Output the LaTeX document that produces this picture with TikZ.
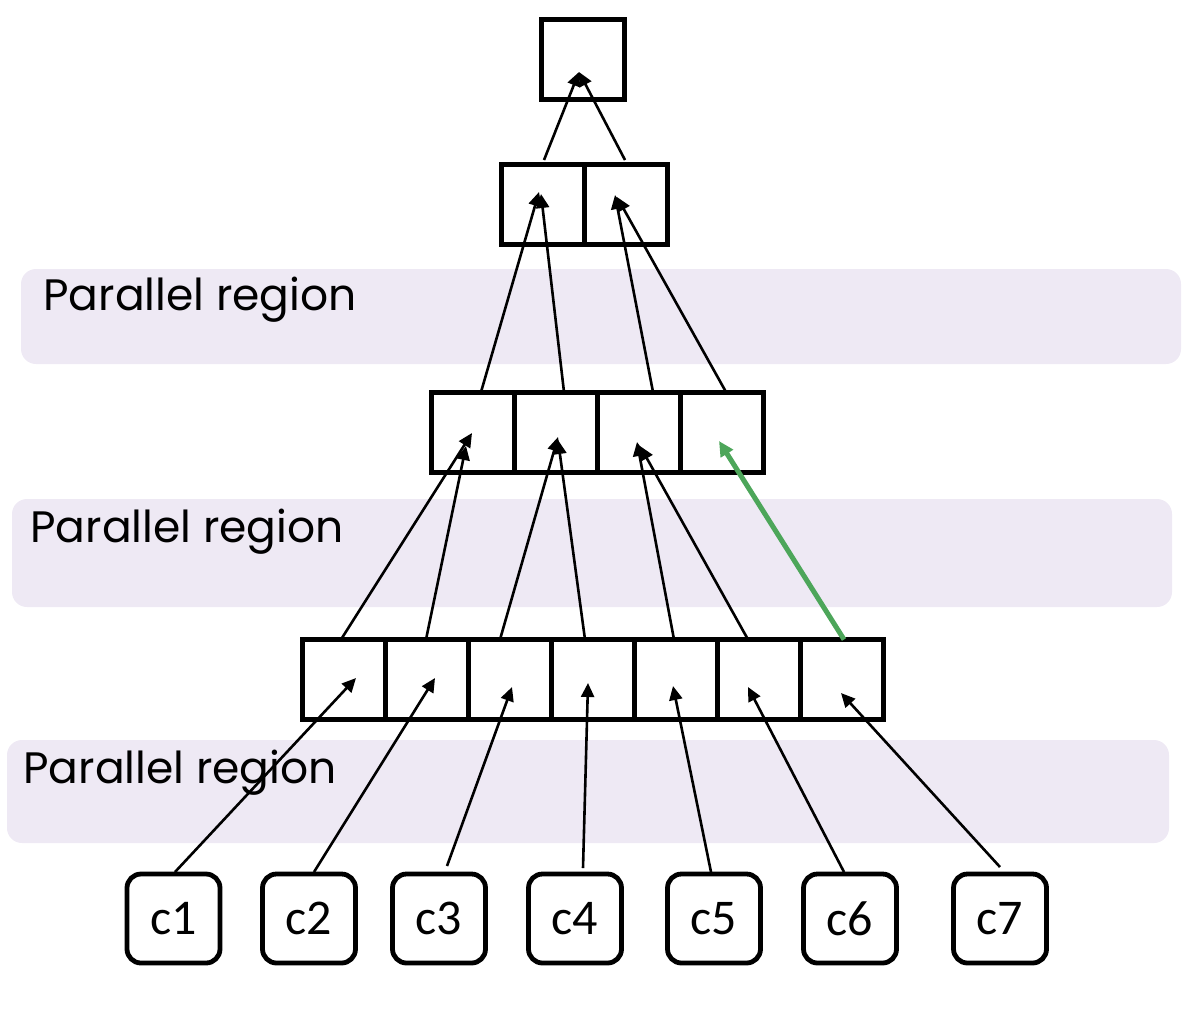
\documentclass[tikz,border=0pt]{standalone}
\usepackage{fontspec}
\setmainfont{Poppins}
\newfontfamily\cfont{Carlito}
\usetikzlibrary{arrows.meta,positioning}

\definecolor{bandcol}{RGB}{238,233,244}
\definecolor{grn}{RGB}{77,166,90}

\begin{document}
\begin{tikzpicture}[x=0.5pt,y=-0.5pt,
    band/.style={fill=bandcol, rounded corners=7.5pt},
    cell/.style={draw, line width=2.5pt, minimum width=41.5pt, minimum height=40pt, inner sep=0pt, outer sep=0pt},
    leaf/.style={draw, line width=2.4pt, rounded corners=7pt, minimum width=46.5pt, minimum height=44.5pt, inner sep=0pt, outer sep=0pt, font=\cfont\fontsize{25}{29}\selectfont},
    lbl/.style={anchor=base west, inner sep=0pt, font=\fontsize{22}{26}\selectfont},
    arr/.style={-{Triangle[length=7pt,width=6.5pt]}, line width=1.3pt},
    hot/.style={-{Triangle[length=7.5pt,width=7pt]}, line width=2.5pt, draw=grn, fill=grn}]
    \useasboundingbox (0,0) rectangle (1202,1024);

    %Shape: bands
    \fill[band] (21,269) rectangle (1181,364);
    \fill[band] (12,499) rectangle (1172,607);
    \fill[band] (7,740) rectangle (1169,843);

    % Text Node
    \node[lbl] (reg1) at (43,310) {Parallel region};
    % Text Node
    \node[lbl] (reg2) at (30,542) {Parallel region};
    % Text Node
    \node[lbl] (reg3) at (23,783) {Parallel region};

    %Shape: top cell
    \node[cell] (top) at (583,59.5) {};
    %Shape: level 2
    \node[cell] (l2a) at (543,204) {};
    \node[cell, right=0pt of l2a] (l2b) {};
    %Shape: level 3
    \node[cell] (l3a) at (472.5,432) {};
    \node[cell, right=0pt of l3a] (l3b) {};
    \node[cell, right=0pt of l3b] (l3c) {};
    \node[cell, right=0pt of l3c] (l3d) {};
    %Shape: level 4
    \node[cell] (l4a) at (343.5,679.5) {};
    \node[cell, right=0pt of l4a] (l4b) {};
    \node[cell, right=0pt of l4b] (l4c) {};
    \node[cell, right=0pt of l4c] (l4d) {};
    \node[cell, right=0pt of l4d] (l4e) {};
    \node[cell, right=0pt of l4e] (l4f) {};
    \node[cell, right=0pt of l4f] (l4g) {};

    % Text Node
    \node[leaf] (c1) at (173.5,918.5) {c1};
    \node[leaf] (c2) at (309,918.5) {c2};
    \node[leaf] (c3) at (439,918.5) {c3};
    \node[leaf] (c4) at (575,918.5) {c4};
    \node[leaf] (c5) at (714,918.5) {c5};
    \node[leaf] (c6) at (850,918.5) {c6};
    \node[leaf] (c7) at (1000,918.5) {c7};

    %Straight Lines [id:leaves]
    \draw[arr] ([shift={(1.5,-2)}]c1.north) -- ([shift={(12.5,-1.5)}]l4a.center);
    \draw[arr] ([shift={(5,-2)}]c2.north) -- ([shift={(8.5,-1.5)}]l4b.center);
    \draw[arr] ([shift={(8,-8)}]c3.north) -- ([shift={(2.5,7.5)}]l4c.center);
    \draw[arr] ([shift={(8,-6)}]c4.north) -- ([shift={(-4.5,3.5)}]l4d.center);
    \draw[arr] ([shift={(-3,-2)}]c5.north) -- ([shift={(-2.5,6.5)}]l4e.center);
    \draw[arr] ([shift={(-6,-2)}]c6.north) -- ([shift={(-10.5,7.5)}]l4f.center);
    \draw[arr] ([shift={(0,-7)}]c7.north) -- ([shift={(-0.5,13.5)}]l4g.center);

    %Straight Lines [id:level4]
    \draw[arr] ([shift={(-2.5,0)}]l4a.north) -- ([shift={(-0.5,1)}]l3a.center);
    \draw[arr] ([shift={(-0.5,0)}]l4b.north) -- ([shift={(-6.5,14)}]l3a.center);
    \draw[arr] ([shift={(-9.5,0)}]l4c.north) -- ([shift={(2.5,5)}]l3b.center);
    \draw[arr] ([shift={(-7.5,0)}]l4d.north) -- ([shift={(2.5,8)}]l3b.center);
    \draw[arr] ([shift={(-1.5,0)}]l4e.north) -- ([shift={(-1.5,10)}]l3c.center);
    \draw[arr] ([shift={(-10.5,0)}]l4f.north) -- ([shift={(1.5,14)}]l3c.center);
    \draw[hot] ([shift={(2.5,0)}]l4g.north) -- ([shift={(-2.5,9)}]l3d.center);

    %Straight Lines [id:level3]
    \draw[arr] ([shift={(8.5,0)}]l3a.north) -- ([shift={(-4,-12)}]l2a.center);
    \draw[arr] ([shift={(8.5,0)}]l3b.north) -- ([shift={(-2,-10)}]l2a.center);
    \draw[arr] ([shift={(14.5,0)}]l3c.north) -- ([shift={(-11,-9)}]l2b.center);
    \draw[arr] ([shift={(4.5,0)}]l3d.north) -- ([shift={(-9,-7)}]l2b.center);

    %Straight Lines [id:level2]
    \draw[arr] ([shift={(1,-4)}]l2a.north) -- ([shift={(-4,12.5)}]top.center);
    \draw[arr] ([shift={(-1,-4)}]l2b.north) -- ([shift={(-4,12.5)}]top.center);

\end{tikzpicture}
\end{document}
